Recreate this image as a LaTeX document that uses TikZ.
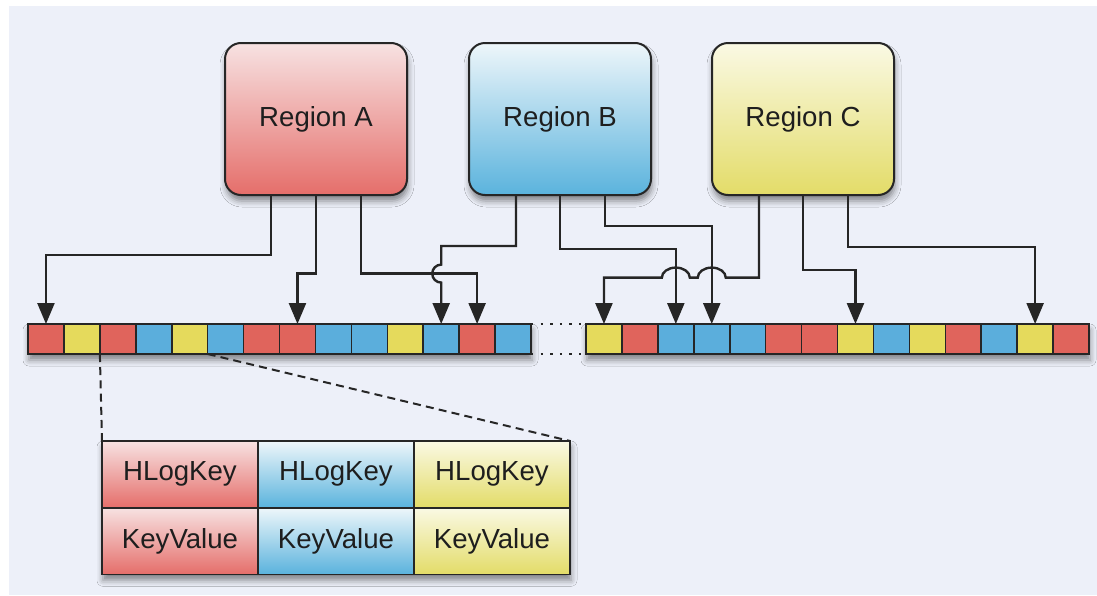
\documentclass[tikz,border=0pt]{standalone}
\usepackage{fontspec}
\setmainfont{Liberation Sans}
\usetikzlibrary{arrows.meta,shadows.blur,calc}

\definecolor{bgc}{HTML}{EDF0F9}
\definecolor{ink}{HTML}{262626}
\definecolor{txt}{HTML}{1E1E1E}
\definecolor{cellR}{HTML}{E0645C}
\definecolor{cellY}{HTML}{E5DA5C}
\definecolor{cellB}{HTML}{5BAEDC}
\definecolor{redTop}{HTML}{F7E2E2}
\definecolor{redBot}{HTML}{E56E6A}
\definecolor{bluTop}{HTML}{EEF6FA}
\definecolor{bluBot}{HTML}{5AB3DD}
\definecolor{yelTop}{HTML}{FAF9E4}
\definecolor{yelBot}{HTML}{E3DC68}

\begin{document}
\begin{tikzpicture}[x=0.5pt,y=-0.5pt,
  softshadow/.style={blur shadow={shadow xshift=0.5pt,shadow yshift=-3pt,
      shadow blur radius=3pt,shadow opacity=45}},
  region/.style={draw=ink,line width=1pt,rounded corners=8pt,
      minimum width=91pt,minimum height=76pt,inner sep=0pt,text=txt,
      font=\fontsize{13.8pt}{16pt}\selectfont,softshadow},
  cell/.style={draw=ink,line width=0.8pt,minimum width=17.96pt,
      minimum height=15pt,inner sep=0pt,outer sep=0pt},
  tcell/.style={draw=ink,line width=0.8pt,minimum width=78pt,
      minimum height=33.3pt,inner sep=0pt,outer sep=0pt,text=txt,
      font=\fontsize{13.8pt}{16pt}\selectfont},
  link/.style={draw=ink,line width=1.2pt,
      -{Triangle[width=8.5pt,length=10.5pt]}},
  dashline/.style={draw=ink,line width=1pt,dash pattern=on 4pt off 2.6pt},
  dotline/.style={draw=ink,line width=1pt,dash pattern=on 1.2pt off 3.6pt}
]
% canvas
\useasboundingbox (0,0) rectangle (1097,595);
\fill[white] (0,0) rectangle (1097,595);
\fill[bgc] (9,6) rectangle (1097,595);

% regions
\node[region,top color=redTop,bottom color=redBot] (A) at (316,119) {Region A};
\node[region,top color=bluTop,bottom color=bluBot] (B) at (560,119) {Region B};
\node[region,top color=yelTop,bottom color=yelBot] (C) at (803,119) {Region C};

% log strips
\path[fill=bgc,softshadow] (28,324) rectangle (531,354);
\path[fill=bgc,softshadow] (586,324) rectangle (1089,354);
\foreach \c [count=\i] in {R,Y,R,B,Y,B,R,R,B,B,Y,B,R,B}
  \node[cell,fill=cell\c] (L\i) at ({28+(\i-0.5)*35.93},339) {};
\foreach \c [count=\i] in {Y,R,B,B,B,R,R,Y,B,Y,R,B,Y,R}
  \node[cell,fill=cell\c] (R\i) at ({586+(\i-0.5)*35.93},339) {};
\draw[dotline] (L14.north east) -- (R1.north west);
\draw[dotline] (L14.south east) -- (R1.south west);

% heights of the horizontal runs
\coordinate (hA1) at (0,254.7);
\coordinate (hA23) at (0,273.6);
\coordinate (hB1) at (0,246);
\coordinate (hB2) at (0,248.7);
\coordinate (hB3) at (0,226);
\coordinate (hC1) at (0,277.6);
\coordinate (hC2) at (0,269.7);
\coordinate (hC3) at (0,247);

% Region A edits
\draw[link] ([xshift=-22.5pt]A.south) |- (hA1 -| L1) -- (L1.north);
\draw[link] (A.south) |- (hA23 -| L8) -- (L8.north);
\draw[link] ([xshift=22.5pt]A.south) |- (hA23 -| L13) -- (L13.north);

% Region B edits
\draw[link] ([xshift=-22pt]B.south) |- (hB1 -| L12)
  -- ($(hA23 -| L12)+(0,-9)$) arc[start angle=90,end angle=270,radius=4.5pt]
  -- (L12.north);
\draw[link] (B.south) |- (hB2 -| R3) -- (R3.north);
\draw[link] ([xshift=22.5pt]B.south) |- (hB3 -| R4) -- (R4.north);

% Region C edits
\draw[link] ([xshift=-22pt]C.south) |- ($(hC1 -| R4)+(14,0)$)
  arc[start angle=0,end angle=180,x radius=7pt,y radius=5pt]
  -- ($(hC1 -| R3)+(14,0)$)
  arc[start angle=0,end angle=180,x radius=7pt,y radius=5pt]
  -- (hC1 -| R1) -- (R1.north);
\draw[link] (C.south) |- (hC2 -| R8) -- (R8.north);
\draw[link] ([xshift=22.5pt]C.south) |- (hC3 -| R13) -- (R13.north);

% expanded entries
\path[fill=bgc,softshadow] (102,441) rectangle (570,574.3);
\node[tcell,top color=redTop,bottom color=redBot] (T11) at (180,474.3) {HLogKey};
\node[tcell,top color=bluTop,bottom color=bluBot] (T12) at (336,474.3) {HLogKey};
\node[tcell,top color=yelTop,bottom color=yelBot] (T13) at (492,474.3) {HLogKey};
\node[tcell,top color=redTop,bottom color=redBot] (T21) at (180,541) {KeyValue};
\node[tcell,top color=bluTop,bottom color=bluBot] (T22) at (336,541) {KeyValue};
\node[tcell,top color=yelTop,bottom color=yelBot] (T23) at (492,541) {KeyValue};

\draw[dashline] (L3.south west) -- (T11.north west);
\draw[dashline] (L6.south west) -- (T13.north east);
\end{tikzpicture}
\end{document}
